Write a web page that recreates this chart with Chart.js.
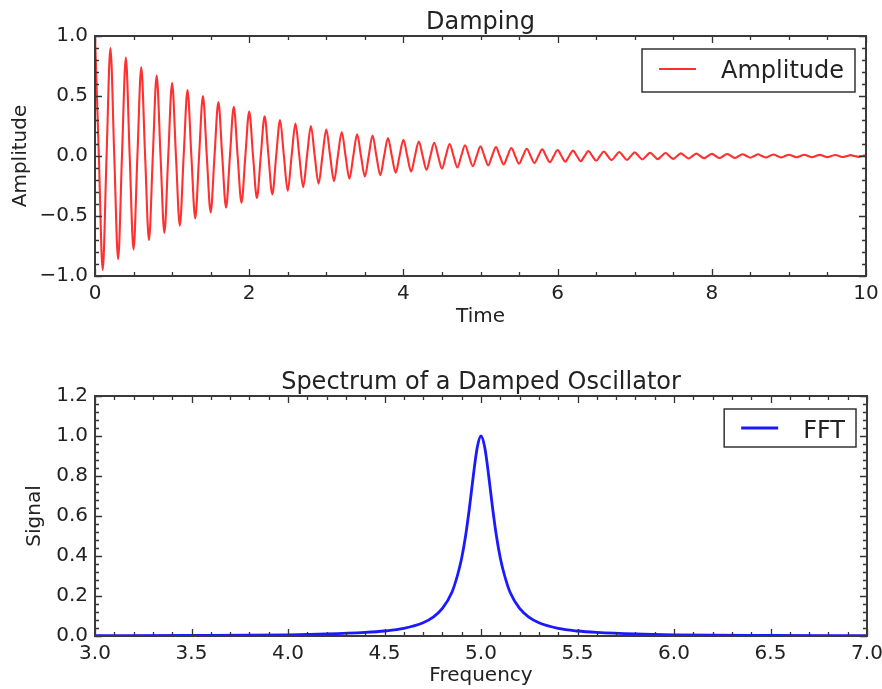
<!DOCTYPE html>
<html>
<head>
<meta charset="utf-8">
<script src="https://cdn.jsdelivr.net/npm/chart.js@4.4.0/dist/chart.umd.min.js"></script>
<style>
  html, body { margin: 0; padding: 0; background: #fff; }
  canvas { display: block; }
</style>
</head>
<body>
<canvas id="dampChart" width="882" height="345"></canvas>
<canvas id="fftChart" width="882" height="344"></canvas>
<script>
// top plot: the curve swings between these extremes, one every half period (0.1 s),
// and crosses zero halfway between two of them
const halfPeriod = 0.1;
const peakValues = [
  1.00, -0.95, 0.90, -0.86, 0.82, -0.78, 0.74, -0.70, 0.67, -0.64,
  0.61, -0.58, 0.55, -0.52, 0.50, -0.47, 0.45, -0.43, 0.41, -0.39,
  0.37, -0.35, 0.33, -0.32, 0.30, -0.29, 0.27, -0.26, 0.25, -0.23,
  0.22, -0.21, 0.20, -0.19, 0.18, -0.17, 0.17, -0.16, 0.15, -0.14,
  0.135, -0.13, 0.12, -0.115, 0.11, -0.105, 0.10, -0.095, 0.09, -0.085,
  0.08, -0.078, 0.074, -0.071, 0.067, -0.064, 0.061, -0.058, 0.055, -0.052,
  0.05, -0.047, 0.045, -0.043, 0.041, -0.039, 0.037, -0.035, 0.033, -0.032,
  0.03, -0.029, 0.027, -0.026, 0.025, -0.024, 0.022, -0.021, 0.02, -0.019,
  0.018, -0.017, 0.017, -0.016, 0.015, -0.014, 0.014, -0.013, 0.012, -0.012,
  0.011, -0.011, 0.01, -0.01, 0.009, -0.009, 0.008, -0.008, 0.007, -0.007,
  0.007
];

// bottom plot
const freqs = [3.0, 3.5, 4.0, 4.2, 4.4, 4.5, 4.6, 4.7, 4.75, 4.8, 4.85, 4.88, 4.9, 4.92, 4.94, 4.96, 4.98,
  5.0, 5.02, 5.04, 5.06, 5.08, 5.1, 5.12, 5.15, 5.2, 5.25, 5.3, 5.4, 5.5, 5.6, 5.8, 6.0, 6.5, 7.0];
const signal = [0.002, 0.003, 0.006, 0.010, 0.018, 0.025, 0.038, 0.066, 0.093, 0.138, 0.22, 0.31, 0.39, 0.50, 0.64, 0.80, 0.94,
  1.00, 0.94, 0.80, 0.64, 0.50, 0.39, 0.31, 0.22, 0.138, 0.093, 0.066, 0.038, 0.025, 0.018, 0.010, 0.006, 0.003, 0.002];

const amplitudePoints = [];
peakValues.forEach((v, k) => {
  amplitudePoints.push({ x: k * halfPeriod, y: v });
  if (k < peakValues.length - 1) amplitudePoints.push({ x: (k + 0.5) * halfPeriod, y: 0 });
});
const fftPoints = freqs.map((f, i) => ({ x: f, y: signal[i] }));

Chart.defaults.font.family = '"DejaVu Sans", sans-serif';
Chart.defaults.color = '#222';
Chart.defaults.animation = false;

function fmt1(v) {
  const s = Math.abs(v).toFixed(1);
  return v < -1e-9 ? '\u2212' + s : s;
}

// matplotlib-ish frame with inward ticks on all four sides
const frameTicks = {
  id: 'frameTicks',
  afterDatasetsDraw(chart, args, opts) {
    const { ctx, chartArea: a, scales: { x, y } } = chart;
    ctx.save();
    ctx.strokeStyle = '#333';
    ctx.lineWidth = 1.3;
    ctx.beginPath();
    function xTick(v, len) {
      const px = Math.round(x.getPixelForValue(v)) + 0.5;
      ctx.moveTo(px, a.top); ctx.lineTo(px, a.top + len);
      ctx.moveTo(px, a.bottom); ctx.lineTo(px, a.bottom - len);
    }
    function yTick(v, len) {
      const py = Math.round(y.getPixelForValue(v)) + 0.5;
      ctx.moveTo(a.left, py); ctx.lineTo(a.left + len, py);
      ctx.moveTo(a.right, py); ctx.lineTo(a.right - len, py);
    }
    let n = Math.round((x.max - x.min) / opts.xMinor);
    for (let i = 0; i <= n; i++) xTick(x.min + i * opts.xMinor, 4);
    n = Math.round((y.max - y.min) / opts.yMinor);
    for (let i = 0; i <= n; i++) yTick(y.min + i * opts.yMinor, 4);
    x.ticks.forEach(t => xTick(t.value, 7));
    y.ticks.forEach(t => yTick(t.value, 7));
    ctx.stroke();
    ctx.lineWidth = 2;
    ctx.strokeStyle = '#3a3a3a';
    ctx.strokeRect(a.left, a.top, a.width, a.height);
    ctx.restore();
  }
};

// legend with a box, upper right inside the axes
const boxLegend = {
  id: 'boxLegend',
  afterDraw(chart, args, opts) {
    const { ctx, chartArea: a } = chart;
    const ds = chart.data.datasets[0];
    ctx.save();
    ctx.font = '24px "DejaVu Sans"';
    const tw = ctx.measureText(ds.label).width;
    const w = 17 + 37 + 25 + tw + 11;
    const right = a.right - 11, top = a.top + 13;
    const left = right - w;
    ctx.fillStyle = '#fff';
    ctx.fillRect(left, top, w, opts.height);
    ctx.strokeStyle = '#333';
    ctx.lineWidth = 1.5;
    ctx.strokeRect(left, top, w, opts.height);
    ctx.strokeStyle = ds.borderColor;
    ctx.lineWidth = ds.borderWidth;
    ctx.beginPath();
    ctx.moveTo(left + 17, top + opts.lineY);
    ctx.lineTo(left + 54, top + opts.lineY);
    ctx.stroke();
    ctx.fillStyle = '#222';
    ctx.textBaseline = 'alphabetic';
    ctx.fillText(ds.label, left + 79, top + opts.textY);
    ctx.restore();
  }
};

function noPad(scale) {
  scale.paddingLeft = 0; scale.paddingRight = 0;
  scale.paddingTop = 0; scale.paddingBottom = 0;
}

const tickFont = { size: 20 };
const noGrid = { display: false, drawTicks: false };

new Chart(document.getElementById('dampChart'), {
  type: 'line',
  data: {
    datasets: [{
      label: 'Amplitude',
      data: amplitudePoints,
      borderColor: '#ff3030',
      borderWidth: 2.1,
      pointRadius: 0,
      cubicInterpolationMode: 'monotone',
      fill: false
    }]
  },
  options: {
    responsive: false,
    layout: { padding: { left: 0, right: 16, top: 0, bottom: 0 } },
    plugins: {
      legend: { display: false },
      tooltip: { enabled: false },
      title: {
        display: true,
        fullSize: false,
        text: 'Damping',
        font: { size: 24, weight: 'normal', lineHeight: 1 },
        padding: { top: 11, bottom: 1 }
      },
      frameTicks: { xMinor: 0.5, yMinor: 0.1 },
      boxLegend: { height: 43, lineY: 20, textY: 29.3 }
    },
    scales: {
      x: {
        type: 'linear',
        min: 0, max: 10,
        grid: noGrid,
        border: { display: false },
        ticks: { stepSize: 2, font: tickFont, padding: 6, autoSkip: false, maxRotation: 0,
          callback: v => String(v) },
        title: { display: true, text: 'Time', font: { size: 20 }, padding: { top: 0, bottom: 16 } },
        afterFit: s => { s.height = 69; noPad(s); }
      },
      y: {
        min: -1, max: 1,
        grid: noGrid,
        border: { display: false },
        ticks: { stepSize: 0.5, font: tickFont, padding: 7, autoSkip: false, callback: v => fmt1(v) },
        title: { display: true, text: 'Amplitude', font: { size: 20 }, padding: 9 },
        afterFit: s => { s.width = 95; noPad(s); }
      }
    }
  },
  plugins: [frameTicks, boxLegend]
});

new Chart(document.getElementById('fftChart'), {
  type: 'line',
  data: {
    datasets: [{
      label: 'FFT',
      data: fftPoints,
      borderColor: '#1a1aff',
      borderWidth: 2.8,
      pointRadius: 0,
      cubicInterpolationMode: 'monotone',
      fill: false
    }]
  },
  options: {
    responsive: false,
    layout: { padding: { left: 0, right: 15, top: 0, bottom: 0 } },
    plugins: {
      legend: { display: false },
      tooltip: { enabled: false },
      title: {
        display: true,
        fullSize: false,
        text: 'Spectrum of a Damped Oscillator',
        font: { size: 24, weight: 'normal', lineHeight: 1 },
        padding: { top: 25.5, bottom: 1.5 }
      },
      frameTicks: { xMinor: 0.1, yMinor: 0.04 },
      boxLegend: { height: 38, lineY: 19, textY: 29 }
    },
    scales: {
      x: {
        type: 'linear',
        min: 3, max: 7,
        grid: noGrid,
        border: { display: false },
        ticks: { stepSize: 0.5, font: tickFont, padding: 6, autoSkip: false, maxRotation: 0,
          callback: v => v.toFixed(1) },
        title: { display: true, text: 'Frequency', font: { size: 20 }, padding: { top: 0, bottom: 1 } },
        afterFit: s => { s.height = 53; noPad(s); }
      },
      y: {
        min: 0, max: 1.2,
        grid: noGrid,
        border: { display: false },
        ticks: { stepSize: 0.2, font: tickFont, padding: 7, autoSkip: false, callback: v => fmt1(v) },
        title: { display: true, text: 'Signal', font: { size: 20 }, padding: 23 },
        afterFit: s => { s.width = 95; noPad(s); }
      }
    }
  },
  plugins: [frameTicks, boxLegend]
});
</script>
</body>
</html>
